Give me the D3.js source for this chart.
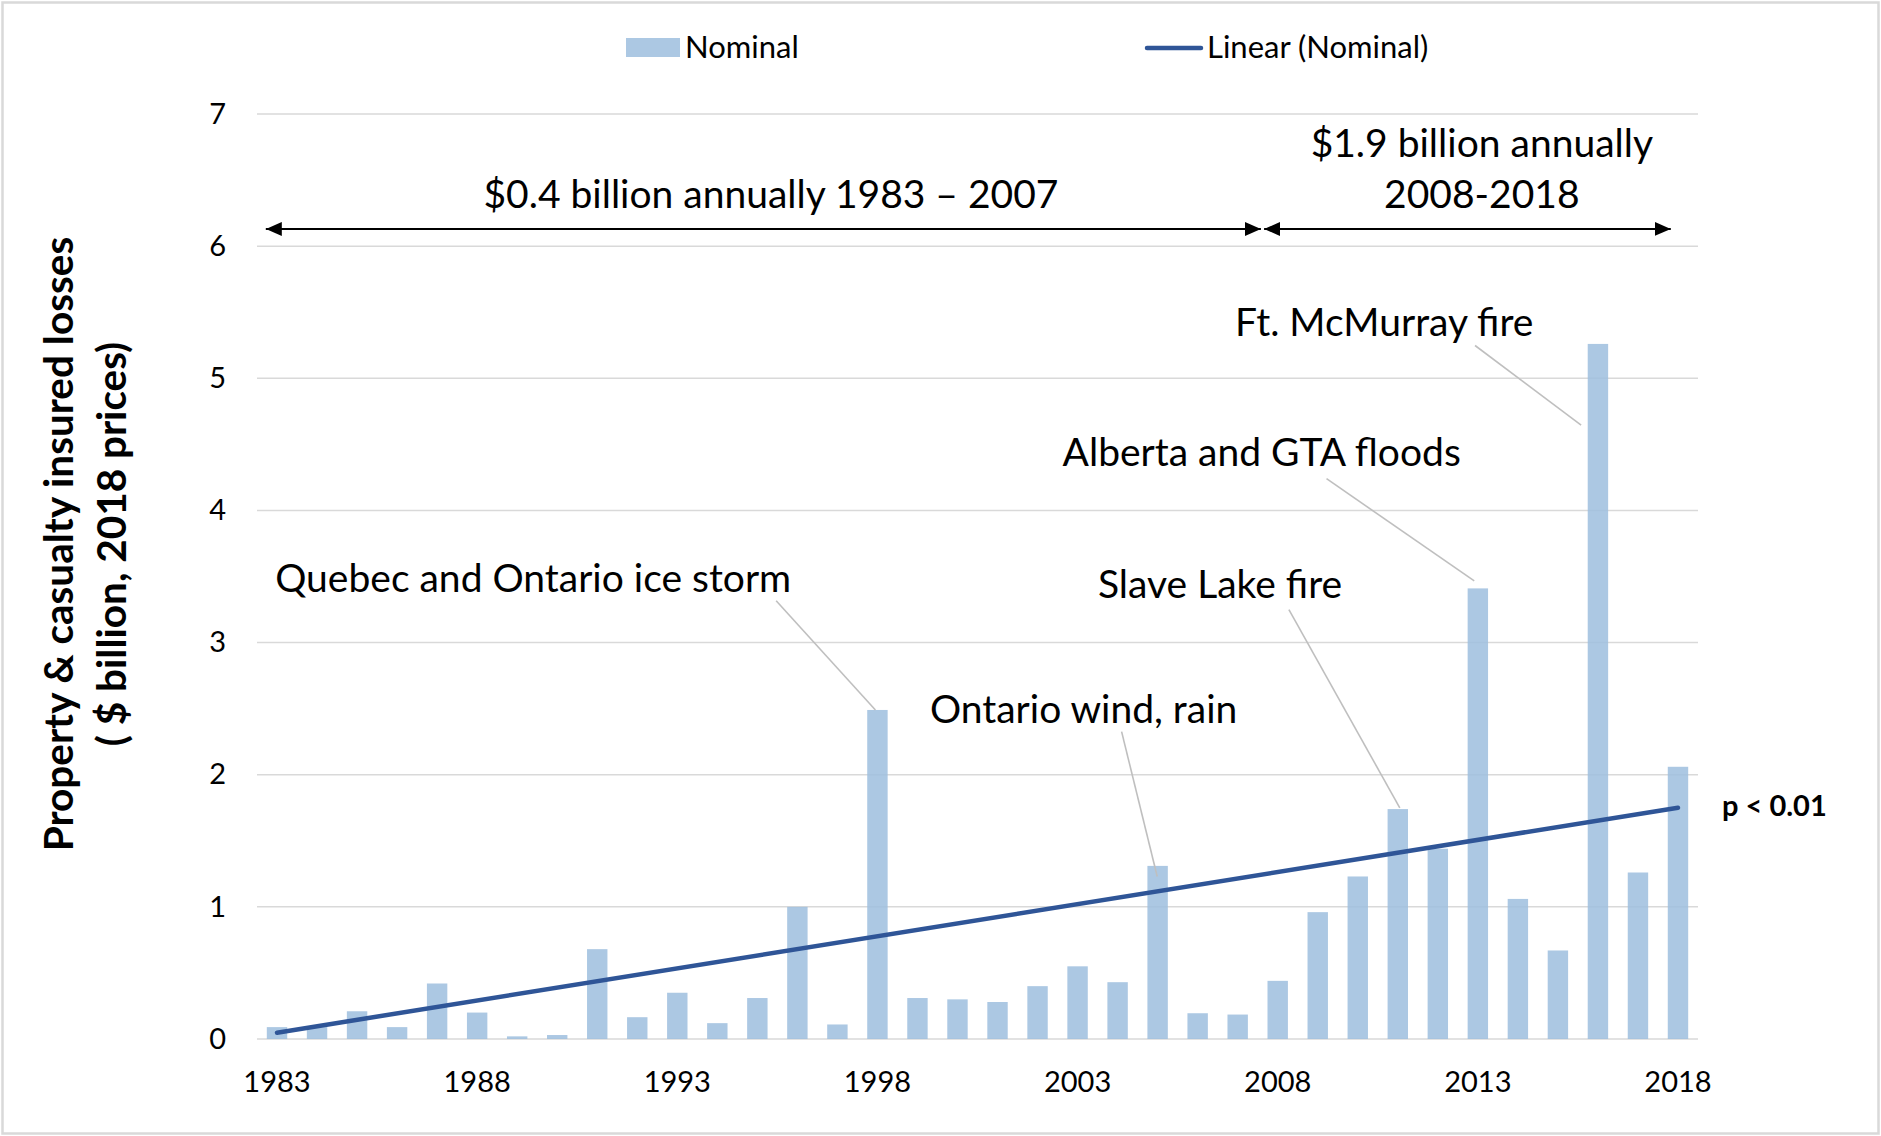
<!DOCTYPE html>
<html>
<head>
<meta charset="utf-8">
<script src="https://cdn.jsdelivr.net/npm/d3@7"></script>
<style>
  html, body { margin: 0; padding: 0; background: #fff; }
  svg { display: block; font-family: Lato, "Noto Sans", sans-serif; }
</style>
</head>
<body>
<svg id="chart" width="1881" height="1136"></svg>
<script>
// Annual property & casualty insured losses, $ billion (2018 prices)
const years = [1983, 1984, 1985, 1986, 1987, 1988, 1989, 1990, 1991, 1992, 1993, 1994,
               1995, 1996, 1997, 1998, 1999, 2000, 2001, 2002, 2003, 2004, 2005, 2006,
               2007, 2008, 2009, 2010, 2011, 2012, 2013, 2014, 2015, 2016, 2017, 2018];
const nominal = [0.09, 0.09, 0.21, 0.09, 0.42, 0.20, 0.02, 0.03, 0.68, 0.165, 0.35, 0.12,
                 0.31, 1.00, 0.11, 2.49, 0.31, 0.30, 0.28, 0.40, 0.55, 0.43, 1.31, 0.195,
                 0.185, 0.44, 0.96, 1.23, 1.74, 1.44, 3.41, 1.06, 0.67, 5.26, 1.26, 2.06];

// Linear trendline of the nominal series, value at first and last year
const trendYears = [1983, 2018];
const trendValues = [0.048, 1.75];

const yTicks = [0, 1, 2, 3, 4, 5, 6, 7];
const xTickLabels = [1983, 1988, 1993, 1998, 2003, 2008, 2013, 2018];

const legendLabels = ["Nominal", "Linear (Nominal)"];
const yTitle = ["Property & casualty insured losses", "( $ billion, 2018 prices)"];
const significance = "p < 0.01";

// Event call-outs: text, label anchor and leader line, in (year, value) units
const events = [
  { text: "Quebec and Ontario ice storm", tx: 1989.40, ty: 3.384, x1: 1995.47, y1: 3.316, x2: 1997.95, y2: 2.49 },
  { text: "Ontario wind, rain",           tx: 2003.15, ty: 2.394, x1: 2004.10, y1: 2.326, x2: 2004.99, y2: 1.23 },
  { text: "Slave Lake fire",              tx: 2006.56, ty: 3.338, x1: 2008.28, y1: 3.25,  x2: 2011.05, y2: 1.749 },
  { text: "Alberta and GTA floods",       tx: 2007.60, ty: 4.338, x1: 2009.22, y1: 4.24,  x2: 2012.91, y2: 3.467 },
  { text: "Ft. McMurray fire",            tx: 2010.66, ty: 5.322, x1: 2012.93, y1: 5.248, x2: 2015.58, y2: 4.646 }
];

// Period averages with double-headed arrows
const periods = [
  { lines: ["$0.4 billion annually 1983 \u2013 2007"], tx: 1995.34, ty: [6.29], from: 1982.72, to: 2007.58 },
  { lines: ["$1.9 billion annually", "2008-2018"],     tx: 2013.10, ty: [6.677, 6.29], from: 2007.66, to: 2017.82 }
];
const arrowLevel = 6.13;

const svg = d3.select("#chart");
const W = 1881, H = 1136;
const plot = { left: 257, right: 1698, top: 114, bottom: 1039 };

const x = d3.scaleBand()
  .domain(years)
  .range([plot.left, plot.right])
  .paddingInner(0.49)
  .paddingOuter(0.245);

// continuous year position (band centres fall on whole years)
const xc = d3.scaleLinear()
  .domain([years[0] - 0.5, years[years.length - 1] + 0.5])
  .range([plot.left, plot.right]);

const y = d3.scaleLinear().domain([0, 7]).range([plot.bottom, plot.top]);

// outer frame
svg.append("rect")
  .attr("x", 2.5).attr("y", 2.5)
  .attr("width", W - 5).attr("height", H - 5)
  .attr("fill", "#fff")
  .attr("stroke", "#d9d9d9")
  .attr("stroke-width", 2.5);

// horizontal gridlines
svg.append("g").selectAll("line")
  .data(yTicks)
  .join("line")
  .attr("x1", plot.left).attr("x2", plot.right)
  .attr("y1", d => y(d)).attr("y2", d => y(d))
  .attr("stroke", "#d9d9d9")
  .attr("stroke-width", 1.5);

// y axis labels
const yAxis = svg.append("g")
  .attr("transform", `translate(${plot.left},0)`)
  .call(d3.axisLeft(y).tickValues(yTicks).tickSize(0).tickPadding(31).tickFormat(d3.format("d")));
yAxis.select(".domain").remove();
yAxis.selectAll("text")
  .attr("font-family", "Lato, sans-serif")
  .attr("font-size", 29)
  .attr("fill", "#000");

// x axis labels
const xAxis = svg.append("g")
  .attr("transform", `translate(0,${plot.bottom})`)
  .call(d3.axisBottom(x).tickValues(xTickLabels).tickSize(0).tickPadding(32));
xAxis.select(".domain").remove();
xAxis.selectAll("text")
  .attr("font-family", "Lato, sans-serif")
  .attr("font-size", 29)
  .attr("fill", "#000");

// bars
svg.append("g").selectAll("rect")
  .data(years.map((yr, i) => ({ yr, v: nominal[i] })))
  .join("rect")
  .attr("x", d => x(d.yr))
  .attr("width", x.bandwidth())
  .attr("y", d => y(d.v))
  .attr("height", d => y(0) - y(d.v))
  .attr("fill", "rgb(158,190,222)")
  .attr("fill-opacity", 0.85);

// trendline
svg.append("path")
  .datum(trendYears.map((yr, i) => [yr, trendValues[i]]))
  .attr("d", d3.line().x(d => xc(d[0])).y(d => y(d[1])))
  .attr("fill", "none")
  .attr("stroke", "#2f5597")
  .attr("stroke-width", 4.5)
  .attr("stroke-linecap", "round");

// event leader lines and labels
const ev = svg.append("g");
ev.selectAll("line")
  .data(events)
  .join("line")
  .attr("x1", d => xc(d.x1)).attr("y1", d => y(d.y1))
  .attr("x2", d => xc(d.x2)).attr("y2", d => y(d.y2))
  .attr("stroke", "#bfbfbf")
  .attr("stroke-width", 1.6);
ev.selectAll("text")
  .data(events)
  .join("text")
  .attr("x", d => xc(d.tx))
  .attr("y", d => y(d.ty))
  .attr("text-anchor", "middle")
  .attr("font-size", 39)
  .attr("fill", "#000")
  .text(d => d.text);

// arrowheads
const defs = svg.append("defs");
defs.append("marker")
  .attr("id", "arrowhead")
  .attr("viewBox", "0 0 16 14")
  .attr("refX", 16).attr("refY", 7)
  .attr("markerWidth", 16).attr("markerHeight", 14)
  .attr("markerUnits", "userSpaceOnUse")
  .attr("orient", "auto-start-reverse")
  .append("path")
  .attr("d", "M0,0 L16,7 L0,14 Z")
  .attr("fill", "#000");

const pg = svg.append("g");
pg.selectAll("line")
  .data(periods)
  .join("line")
  .attr("x1", d => xc(d.from)).attr("x2", d => xc(d.to))
  .attr("y1", y(arrowLevel)).attr("y2", y(arrowLevel))
  .attr("stroke", "#000")
  .attr("stroke-width", 2)
  .attr("marker-start", "url(#arrowhead)")
  .attr("marker-end", "url(#arrowhead)");
periods.forEach(p => {
  p.lines.forEach((line, i) => {
    pg.append("text")
      .attr("x", xc(p.tx))
      .attr("y", y(p.ty[i]))
      .attr("text-anchor", "middle")
      .attr("font-size", 39)
      .attr("fill", "#000")
      .text(line);
  });
});

// significance label next to the trendline end
svg.append("text")
  .attr("x", 1722)
  .attr("y", 816)
  .attr("font-size", 29)
  .attr("font-weight", "bold")
  .attr("fill", "#000")
  .text(significance);

// y axis title
const yt = svg.append("g").attr("transform", "translate(0,544) rotate(-90)");
yt.selectAll("text")
  .data(yTitle)
  .join("text")
  .attr("x", 0)
  .attr("y", (d, i) => 73 + i * 53)
  .attr("text-anchor", "middle")
  .attr("font-size", 40.5)
  .attr("font-weight", "bold")
  .attr("fill", "#000")
  .text(d => d);

// legend
const lg = svg.append("g");
lg.append("rect")
  .attr("x", 626).attr("y", 38).attr("width", 54).attr("height", 19)
  .attr("fill", "rgb(158,190,222)").attr("fill-opacity", 0.85);
lg.append("text")
  .attr("x", 685).attr("y", 58)
  .attr("font-size", 31).attr("fill", "#000")
  .text(legendLabels[0]);
lg.append("line")
  .attr("x1", 1147).attr("x2", 1201).attr("y1", 48).attr("y2", 48)
  .attr("stroke", "#2f5597").attr("stroke-width", 4.5).attr("stroke-linecap", "round");
lg.append("text")
  .attr("x", 1207).attr("y", 58)
  .attr("font-size", 31).attr("fill", "#000")
  .text(legendLabels[1]);
</script>
</body>
</html>
